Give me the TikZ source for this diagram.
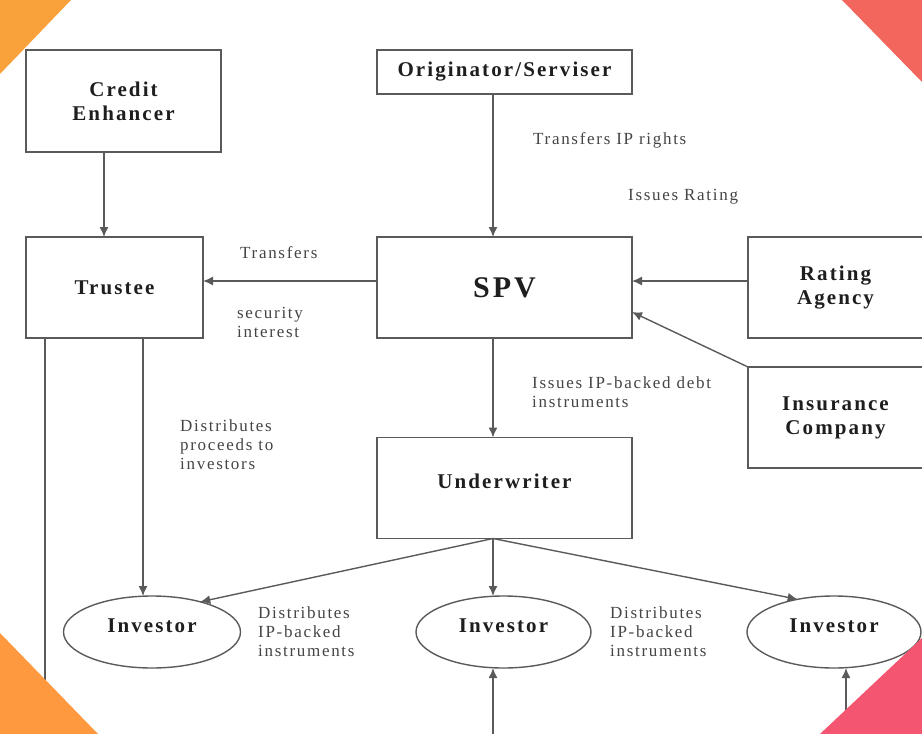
\documentclass[tikz,border=0pt]{standalone}
\usepackage{fontspec}
\setmainfont{Liberation Serif}[LetterSpace=10]
\usetikzlibrary{shapes.geometric,arrows.meta,calc}
\definecolor{linec}{HTML}{5A5A5A}
\definecolor{labc}{HTML}{444444}
\definecolor{txtc}{HTML}{1E1E1E}
\definecolor{orangeA}{HTML}{F9A13B}
\definecolor{orangeB}{HTML}{FF9940}
\definecolor{coral}{HTML}{F2665E}
\definecolor{pinkc}{HTML}{F45570}
\tikzset{
  box/.style={draw=linec, line width=1.4pt, rectangle, inner sep=0pt, outer sep=0pt,
    align=center, font=\fontsize{21}{24}\selectfont\bfseries, text=txtc},
  oval/.style={draw=linec, line width=1.4pt, ellipse, inner sep=0pt, outer sep=0pt,
    font=\fontsize{21}{24}\selectfont\bfseries, text=txtc},
  lab/.style={anchor=west, align=left, inner sep=0pt, text=labc,
    font=\fontsize{17}{19}\selectfont},
  arr/.style={draw=linec, line width=1.4pt, -{Latex[length=10pt,width=9pt]}},
  plain/.style={draw=linec, line width=1.4pt},
}
\begin{document}
\begin{tikzpicture}[x=1pt,y=-1pt]
\useasboundingbox (0,0) rectangle (922,734);
\begin{scope}
\clip (0,0) rectangle (922,734);
% boxes
\node[box, minimum width=195pt, minimum height=102pt] (ce) at (123.5,101) {Credit\\Enhancer};
\node[box, minimum width=255pt, minimum height=44pt] (orig) at (504.5,72) {Originator/Serviser};
\node[box, minimum width=177pt, minimum height=101pt] (trustee) at (114.5,287.5) {Trustee};
\node[box, minimum width=255pt, minimum height=101pt, font=\fontsize{30}{32}\selectfont\bfseries] (spv) at (504.5,287.5) {SPV};
\node[box, minimum width=175pt, minimum height=101pt] (rating) at (835.5,287.5) {Rating\\Agency};
\node[box, minimum width=175pt, minimum height=101pt] (ins) at (835.5,417.5) {Insurance\\Company};
\node[box, minimum width=255pt, minimum height=101pt, text depth=14pt] (under) at (504.5,488) {Underwriter};
\node[oval, minimum width=177pt, minimum height=72pt, text depth=12pt] (inv1) at (152,632) {Investor};
\node[oval, minimum width=175pt, minimum height=72pt, text depth=12pt] (inv2) at (503.5,632) {Investor};
\node[oval, minimum width=174pt, minimum height=72pt, text depth=12pt] (inv3) at (834,632) {Investor};
\coordinate (bl) at (45,740);
\coordinate (b2) at (493,740);
\coordinate (b3) at (846,740);
% connectors
\draw[arr] ([xshift=-19.5pt]ce.south) -- ([xshift=-10.5pt]trustee.north);
\draw[arr] ([xshift=-11.5pt]orig.south) -- ([xshift=-11.5pt]spv.north);
\draw[arr] ([yshift=6.5pt]spv.west) -- ([yshift=6.5pt]trustee.east);
\draw[arr] ([yshift=6.5pt]rating.west) -- ([yshift=6.5pt]spv.east);
\draw[arr] (ins.north west) -- ([yshift=-24.5pt]spv.east);
\draw[arr] ([xshift=-11.5pt]spv.south) -- ([xshift=-11.5pt]under.north);
\draw[arr] ([xshift=-11.5pt]under.south) -- (inv1.32);
\draw[arr] ([xshift=-11.5pt]under.south) -- ([xshift=-10.5pt]inv2.north);
\draw[arr] ([xshift=-11.5pt]under.south) -- (inv3.138);
\draw[arr] ([xshift=28.5pt]trustee.south) -- ([xshift=-9pt]inv1.north);
\draw[plain] ([xshift=-69.5pt]trustee.south) -- (bl);
\draw[arr] (b2) -- ([xshift=-10.5pt]inv2.south);
\draw[arr] (b3) -- ([xshift=12pt]inv3.south);
% labels
\node[lab] (l1) at (533,140) {Transfers IP rights};
\node[lab] (l2) at (628,197) {Issues Rating};
\node[lab] (l3) at (240,253) {Transfers};
\node[lab] (l4) at (237,322) {security\\interest};
\node[lab] (l5) at (180,445) {Distributes\\proceeds to\\investors};
\node[lab] (l6) at (532,392) {Issues IP-backed debt\\instruments};
\node[lab] (l7) at (258,632) {Distributes\\IP-backed\\instruments};
\node[lab] (l8) at (610,632) {Distributes\\IP-backed\\instruments};
% corner decorations
\fill[orangeA] (0,0) -- (71,0) -- (0,74) -- cycle;
\fill[coral] (842,0) -- (922,0) -- (922,82) -- cycle;
\fill[orangeB] (0,633) -- (98,734) -- (0,734) -- cycle;
\fill[pinkc] (922,638) -- (922,734) -- (820,734) -- cycle;
\end{scope}
\end{tikzpicture}
\end{document}
